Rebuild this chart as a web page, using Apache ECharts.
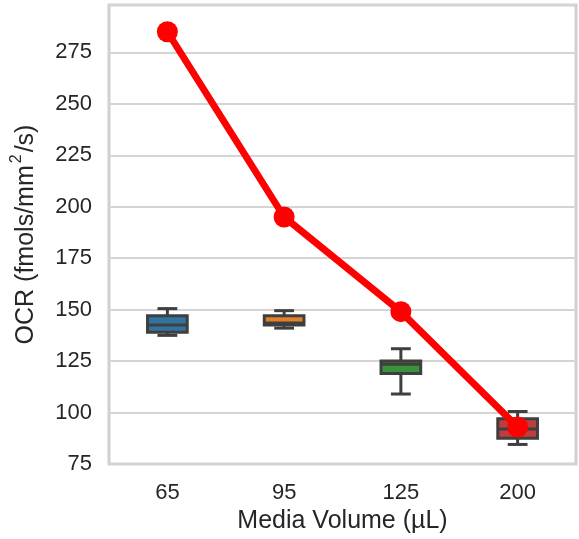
<!DOCTYPE html>
<html>
<head>
<meta charset="utf-8">
<script src="https://cdn.jsdelivr.net/npm/echarts@6.0.0/dist/echarts.min.js"></script>
<style>
  html, body { margin: 0; padding: 0; background: #ffffff; }
  #chart { width: 579px; height: 539px; }
</style>
</head>
<body>
<div id="chart"></div>
<script>
// Media volume groups (µL)
const categories = ['65', '95', '125', '200'];

// Box-plot statistics of measured OCR per group
const whiskerLow  = [137.5, 141.0, 109.0, 84.5];
const quartile1   = [139.0, 142.5, 119.0, 87.5];
const medians     = [142.5, 143.5, 123.5, 92.0];
const quartile3   = [147.0, 147.0, 125.0, 97.0];
const whiskerHigh = [150.5, 149.5, 131.0, 100.5];

// Modelled OCR per group (red trend line)
const modelOcr = [285, 195, 149, 93];

// Box fill colours per group
const boxColors = ['#3274a1', '#e1812c', '#3a923a', '#c03d3e'];

const yTicks = { min: 75, max: 298, step: 25 };

const edgeColor = '#3f3f3f';
const textColor = '#262626';
const fontFamily = '"Liberation Sans", Arial, sans-serif';

const boxData = categories.map((c, i) => [
  i, whiskerLow[i], quartile1[i], medians[i], quartile3[i], whiskerHigh[i]
]);

function renderBox(params, api) {
  const idx = api.value(0);
  const band = api.size([1, 0])[0];
  const boxW = band * 0.34;
  const capW = boxW / 2;
  const xc = api.coord([idx, api.value(3)])[0];
  const yLow = api.coord([idx, api.value(1)])[1];
  const yQ1 = api.coord([idx, api.value(2)])[1];
  const yMed = api.coord([idx, api.value(3)])[1];
  const yQ3 = api.coord([idx, api.value(4)])[1];
  const yHigh = api.coord([idx, api.value(5)])[1];
  const lineStyle = { stroke: edgeColor, lineWidth: 3, lineCap: 'butt' };
  return {
    type: 'group',
    children: [
      { type: 'line', shape: { x1: xc, y1: yQ3, x2: xc, y2: yHigh }, style: lineStyle },
      { type: 'line', shape: { x1: xc, y1: yQ1, x2: xc, y2: yLow }, style: lineStyle },
      { type: 'line', shape: { x1: xc - capW / 2, y1: yHigh, x2: xc + capW / 2, y2: yHigh }, style: lineStyle },
      { type: 'line', shape: { x1: xc - capW / 2, y1: yLow, x2: xc + capW / 2, y2: yLow }, style: lineStyle },
      {
        type: 'rect',
        shape: { x: xc - boxW / 2, y: yQ3, width: boxW, height: yQ1 - yQ3 },
        style: { fill: boxColors[idx], stroke: edgeColor, lineWidth: 3 }
      },
      { type: 'line', shape: { x1: xc - boxW / 2, y1: yMed, x2: xc + boxW / 2, y2: yMed }, style: lineStyle }
    ]
  };
}

const chart = echarts.init(document.getElementById('chart'), null, { renderer: 'canvas' });

chart.setOption({
  animation: false,
  backgroundColor: '#ffffff',
  textStyle: { fontFamily: fontFamily },
  grid: {
    left: 109, right: 3, top: 5, bottom: 75,
    show: true,
    borderColor: '#d0d0d0',
    borderWidth: 3,
    backgroundColor: 'transparent'
  },
  xAxis: {
    type: 'category',
    data: categories,
    boundaryGap: true,
    axisLine: { show: false },
    axisTick: { show: false },
    splitLine: { show: false },
    axisLabel: { margin: 18, fontSize: 22, color: textColor, fontFamily: fontFamily },
    name: 'Media Volume (µL)',
    nameLocation: 'middle',
    nameGap: 43,
    nameTextStyle: { fontSize: 25, color: textColor, fontFamily: fontFamily }
  },
  yAxis: {
    type: 'value',
    min: yTicks.min,
    max: yTicks.max,
    interval: yTicks.step,
    axisLine: { show: false },
    axisTick: { show: false },
    splitLine: { show: true, lineStyle: { color: '#d4d4d4', width: 2 } },
    axisLabel: {
      margin: 17, fontSize: 22, color: textColor, fontFamily: fontFamily,
      showMaxLabel: false
    },
    name: 'OCR (fmols/mm{sup|2}/s)',
    nameLocation: 'middle',
    nameGap: 57,
    nameTextStyle: {
      fontSize: 25, color: textColor, fontFamily: fontFamily, lineHeight: 36,
      rich: {
        sup: {
          fontSize: 16, color: textColor, fontFamily: fontFamily,
          verticalAlign: 'top', lineHeight: 16, padding: [0, 2, 0, 2]
        }
      }
    }
  },
  series: [
    {
      type: 'custom',
      name: 'OCR',
      renderItem: renderBox,
      data: boxData,
      encode: { x: 0, y: [1, 2, 3, 4, 5] },
      z: 2
    },
    {
      type: 'line',
      name: 'Model',
      data: modelOcr,
      symbol: 'circle',
      symbolSize: 21,
      lineStyle: { color: '#ff0000', width: 7 },
      itemStyle: { color: '#ff0000' },
      z: 5
    }
  ]
});
</script>
</body>
</html>
